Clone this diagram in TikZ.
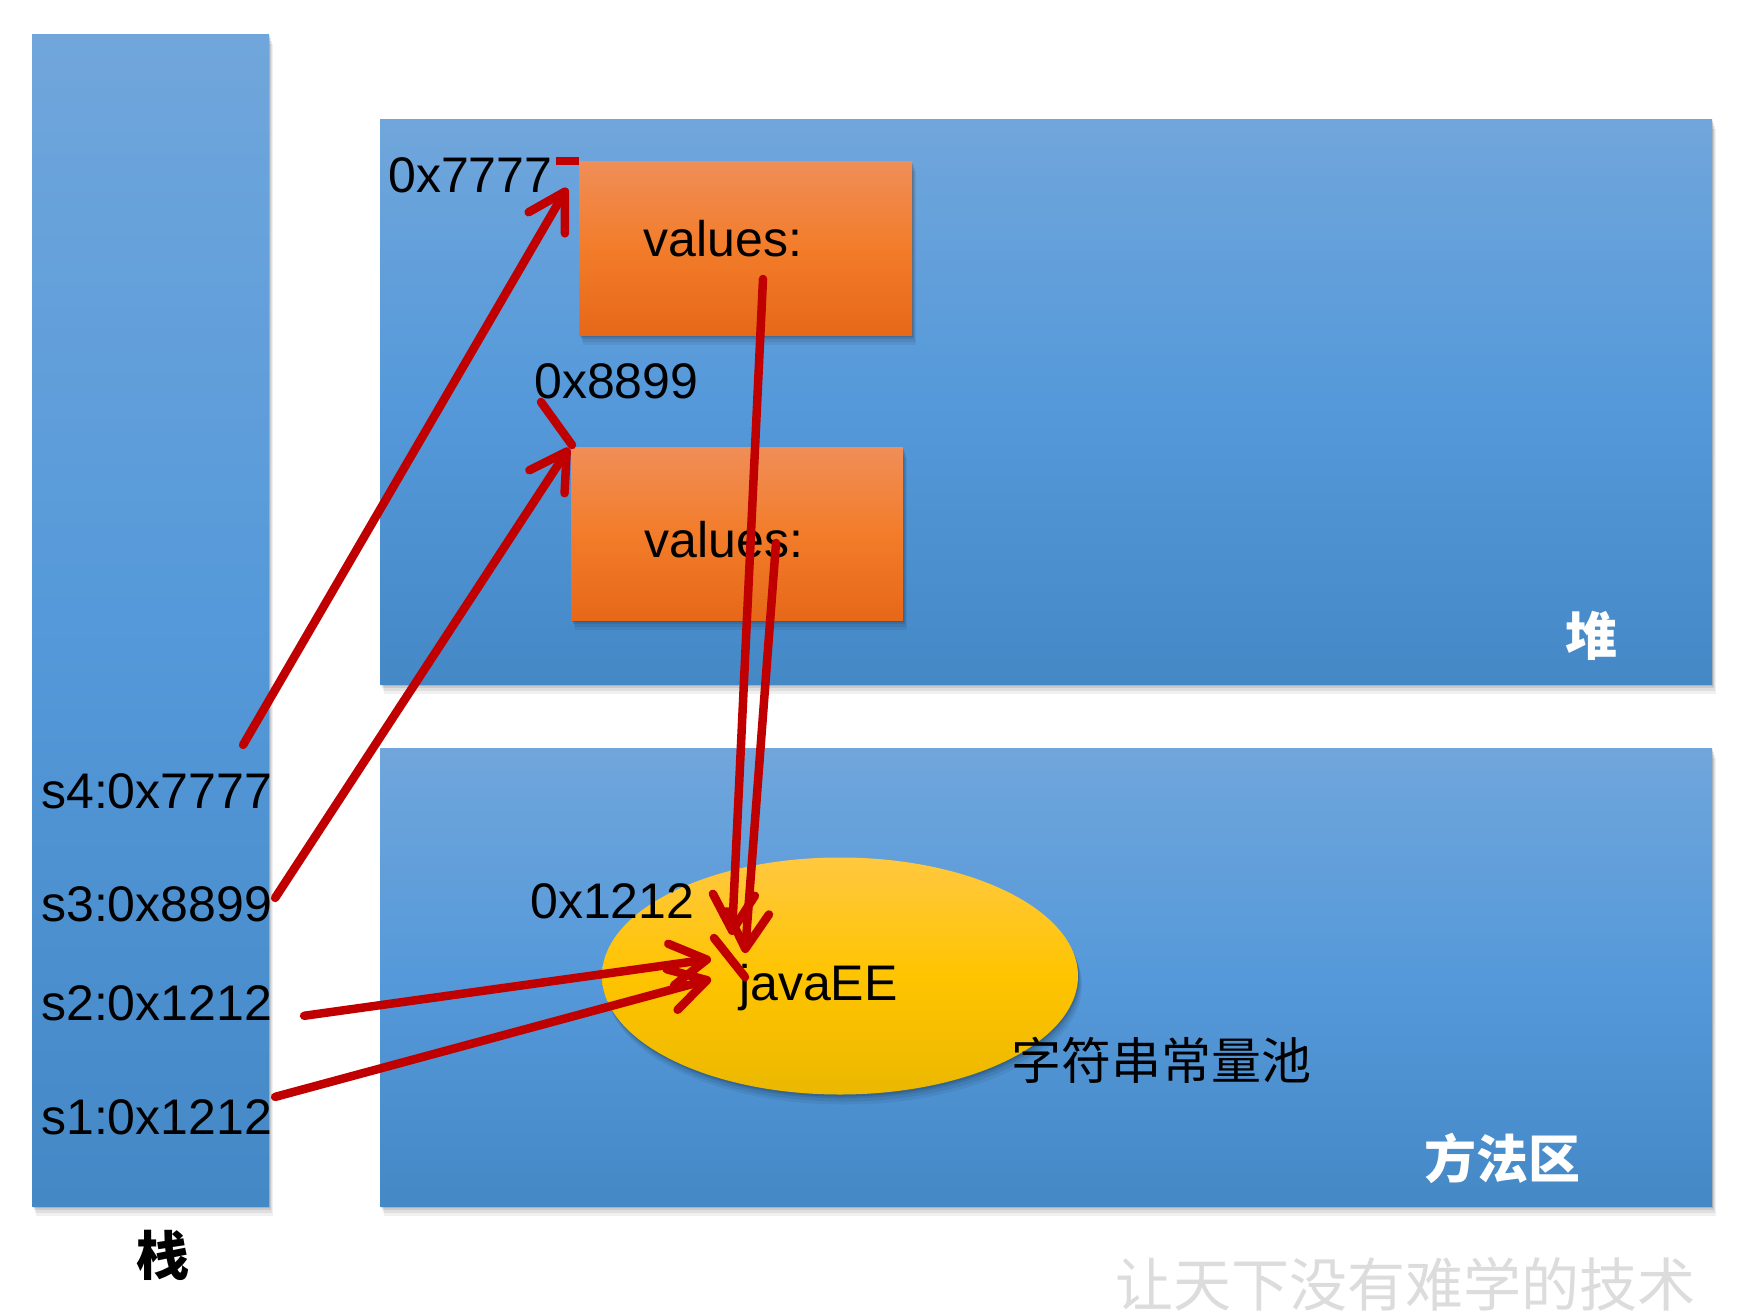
\documentclass[tikz,border=0pt]{standalone}
\usepackage{fontspec}
\setmainfont{Liberation Sans}
\newfontfamily\cjk{Noto Sans CJK SC}
\usetikzlibrary{shapes.geometric,arrows.meta}
\definecolor{blueT}{HTML}{70A6DB}
\definecolor{blueM}{HTML}{5599DA}
\definecolor{blueB}{HTML}{4488C6}
\definecolor{orT}{HTML}{F08E58}
\definecolor{orM}{HTML}{F27C2A}
\definecolor{orB}{HTML}{E66818}
\definecolor{yeT}{HTML}{FFC840}
\definecolor{yeM}{HTML}{FFC400}
\definecolor{yeB}{HTML}{EBB800}
\definecolor{arrred}{HTML}{C00000}
\definecolor{wmgray}{HTML}{DCDCDC}
\begin{document}
\begin{tikzpicture}[x=1pt,y=-1pt,
  shad/.style={
    preaction={fill=black,opacity=0.06,transform canvas={xshift=4pt,yshift=-10pt}},
    preaction={fill=black,opacity=0.07,transform canvas={xshift=3pt,yshift=-7pt}},
    preaction={fill=black,opacity=0.09,transform canvas={xshift=2pt,yshift=-4pt}},
    preaction={fill=black,opacity=0.12,transform canvas={xshift=1pt,yshift=-2pt}}},
  bluebox/.style={rectangle,draw=none,inner sep=0pt,anchor=north west,shad,
    top color=blueT,bottom color=blueB,middle color=blueM},
  orbox/.style={rectangle,draw=none,inner sep=0pt,anchor=north west,shad,
    top color=orT,bottom color=orB,middle color=orM},
  lbl/.style={inner sep=0pt,font=\fontsize{50}{60}\selectfont},
  cjkw/.style={inner sep=0pt,text=white,font=\cjk\bfseries\fontsize{52}{62}\selectfont},
  arr/.style={draw=arrred,line width=8.5pt,line cap=round,
    -{Straight Barb[length=36pt,width=42pt,round]}},
  tick/.style={draw=arrred,line width=8.5pt},
]
\useasboundingbox (0,0) rectangle (1738,1314);
\fill[white] (0,0) rectangle (1738,1314);

% regions
\node[bluebox,minimum width=237pt,minimum height=1172pt] (stack) at (32,34) {};
\node[bluebox,minimum width=1332pt,minimum height=565pt] (heap) at (380,119) {};
\node[bluebox,minimum width=1332pt,minimum height=458pt] (method) at (380,748) {};

% heap objects
\node[orbox,minimum width=333pt,minimum height=174pt] (box1) at (579,161) {};
\node[orbox,minimum width=332pt,minimum height=173pt] (box2) at (571,447) {};

% string pool
\node[ellipse,draw=none,minimum width=476pt,minimum height=237pt,shad,
  top color=yeT,bottom color=yeB,middle color=yeM] (pool) at (840,976) {};

% labels
\node[lbl,anchor=base] (v1) at (723,256) {values:};
\node[lbl,anchor=base] (v2) at (724,557) {values:};
\node[lbl,anchor=base west] (a7) at (388,192) {0x7777};
\node[lbl,anchor=base west] (a8) at (534,398) {0x8899};
\node[lbl,anchor=base west] (a12) at (530,918) {0x1212};
\node[lbl,anchor=base west] (java) at (739,1000) {javaEE};
\node[inner sep=0pt,anchor=base west,font=\cjk\fontsize{50}{60}\selectfont] (poolname) at (1011,1079) {字符串常量池};

\node[lbl,anchor=base west] (s4) at (41,808) {s4:0x7777};
\node[lbl,anchor=base west] (s3) at (41,921) {s3:0x8899};
\node[lbl,anchor=base west] (s2) at (41,1020) {s2:0x1212};
\node[lbl,anchor=base west] (s1) at (41,1134) {s1:0x1212};

\node[cjkw,anchor=base] (heapname) at (1591,655) {堆};
\node[cjkw,anchor=base] (methodname) at (1502,1178) {方法区};
\node[inner sep=0pt,anchor=base,font=\cjk\bfseries\fontsize{53}{63}\selectfont] (stackname) at (163,1275) {栈};
\node[inner sep=0pt,anchor=base,text=wmgray,font=\cjk\fontsize{58}{68}\selectfont] (wm) at (1405,1306) {让天下没有难学的技术};

% stray ticks
\draw[tick] ([xshift=-23pt]box1.north west) -- (box1.north west);
\draw[tick,line cap=round] ([shift={(-30,-45)}]box2.north west) -- ([shift={(1,-2)}]box2.north west);
\draw[tick,line cap=round] ([shift={(-25,-62)}]java.base west) -- ([shift={(6,-23)}]java.base west);

% references
\draw[arr] ([shift={(-29,-28)}]s4.north east) -- ([shift={(-12,27)}]box1.north west);
\draw[arr] ([shift={(3,12)}]s3.north east) -- ([shift={(-2,1)}]box2.north west);
\draw[arr] ([shift={(32,13)}]s2.east) -- ([shift={(-28,-41)}]java.base west);
\draw[arr] ([shift={(3,-2)}]s1.north east) -- ([shift={(-28,-21)}]java.base west);
\draw[arr] ([shift={(40,23)}]v1.base) -- ([shift={(-7,-65)}]java.base west);
\draw[arr] ([shift={(52,-14)}]v2.base) -- ([shift={(6,-47)}]java.base west);
\end{tikzpicture}
\end{document}
